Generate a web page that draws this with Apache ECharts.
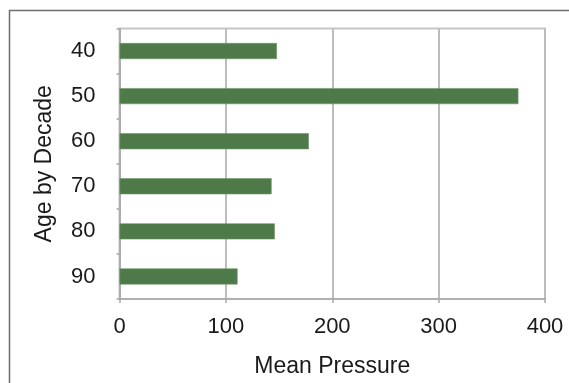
<!DOCTYPE html>
<html>
<head>
<meta charset="utf-8">
<script src="https://cdn.jsdelivr.net/npm/echarts@6/dist/echarts.min.js"></script>
<style>
html,body{margin:0;padding:0;background:#fff;}
#chart{width:569px;height:383px;}
</style>
</head>
<body>
<div id="chart"></div>
<script>
var categories = ['40', '50', '60', '70', '80', '90'];
var meanPressure = [148, 375, 178, 143, 146, 111];
var xTicks = [0, 100, 200, 300, 400];

var chart = echarts.init(document.getElementById('chart'), null, {renderer: 'canvas'});
var font = '"Liberation Sans", Arial, Helvetica, sans-serif';
chart.setOption({
  animation: false,
  backgroundColor: '#ffffff',
  graphic: [{
    type: 'rect',
    shape: {x: 9.5, y: 10.5, width: 620, height: 420},
    style: {fill: 'none', stroke: '#6e6e6e', lineWidth: 1.5},
    z: 100
  }],
  grid: {
    left: 119.5, right: 24, top: 28.5, bottom: 81,
    show: true, borderColor: '#c6c6c6', borderWidth: 2, backgroundColor: 'transparent'
  },
  xAxis: {
    type: 'value',
    min: xTicks[0], max: xTicks[xTicks.length - 1], interval: 100,
    name: 'Mean Pressure', nameLocation: 'middle', nameGap: 56,
    nameTextStyle: {fontFamily: font, fontSize: 23, color: '#1a1a1a'},
    axisLine: {show: true, lineStyle: {color: '#a9a9a9', width: 1.5}},
    axisTick: {show: true, length: 4, inside: false, lineStyle: {color: '#a9a9a9', width: 1.5}},
    axisLabel: {fontFamily: font, fontSize: 22, color: '#1a1a1a', margin: 17},
    splitLine: {show: true, lineStyle: {color: '#bcbcbc', width: 2}}
  },
  yAxis: {
    type: 'category',
    data: categories,
    inverse: true,
    name: 'Age by Decade', nameLocation: 'middle', nameGap: 63, nameRotate: 90,
    nameTextStyle: {fontFamily: font, fontSize: 23, color: '#1a1a1a'},
    axisLine: {show: true, lineStyle: {color: '#a9a9a9', width: 1.5}},
    axisTick: {show: true, length: 3, alignWithLabel: false, lineStyle: {color: '#a9a9a9', width: 1.5}},
    axisLabel: {fontFamily: font, fontSize: 22, color: '#1a1a1a', margin: 24},
    splitLine: {show: false}
  },
  series: [{
    type: 'bar',
    data: meanPressure,
    barWidth: 16,
    itemStyle: {color: '#4e7a49', borderColor: '#6d9566', borderWidth: 0.6}
  }]
});
</script>
</body>
</html>
